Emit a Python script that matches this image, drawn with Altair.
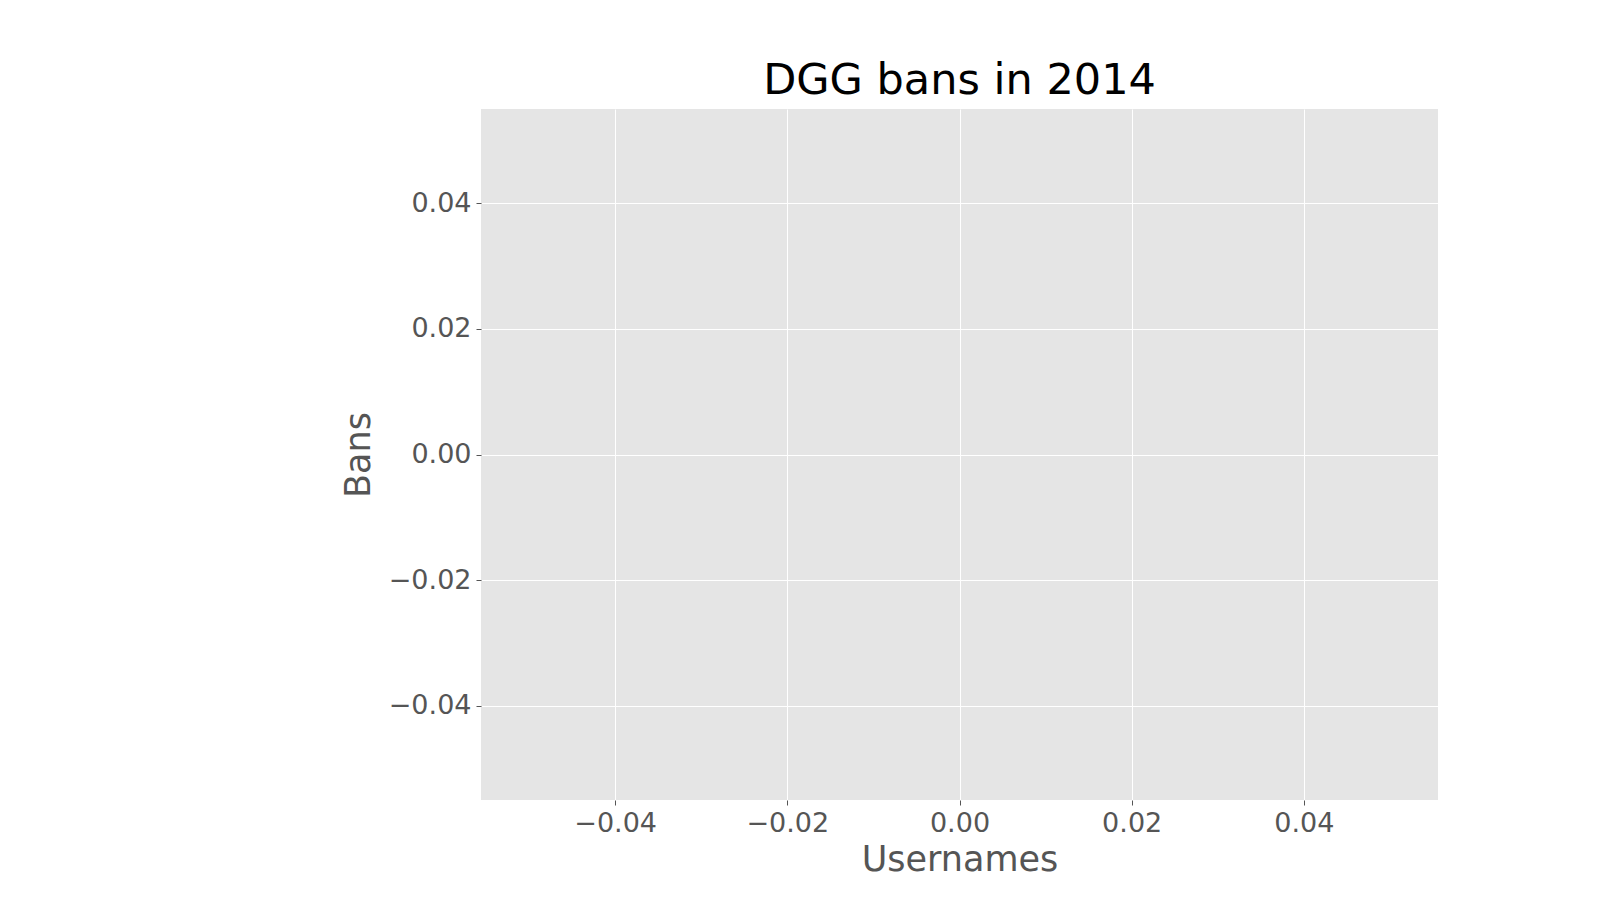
import altair as alt
import pandas as pd

usernames = []
bans = []
tick_values = [-0.04, -0.02, 0.0, 0.02, 0.04]

df = pd.DataFrame({"Usernames": pd.Series(usernames, dtype=float), "Bans": pd.Series(bans, dtype=float)})

axis_common = dict(values=tick_values, format=".2f", labelFontSize=27, labelColor="#555555",
                   labelFont="DejaVu Sans", titleFont="DejaVu Sans", titleFontSize=35,
                   titleColor="#555555", titleFontWeight="normal", gridColor="white",
                   gridWidth=1, domain=False, tickColor="#555555", tickSize=5, labelPadding=5)

chart = alt.Chart(df).mark_bar(color="#E24A33").encode(
    x=alt.X("Usernames:Q", scale=alt.Scale(domain=[-0.055, 0.055], nice=False, zero=False),
            axis=alt.Axis(title="Usernames", titlePadding=6, **axis_common)),
    y=alt.Y("Bans:Q", scale=alt.Scale(domain=[-0.055, 0.055], nice=False, zero=False),
            axis=alt.Axis(title="Bans", titlePadding=12, **axis_common)),
).properties(
    width=957, height=691,
    title=alt.TitleParams("DGG bans in 2014", fontSize=43, font="DejaVu Sans", color="black",
                          fontWeight="normal", offset=6),
    autosize=alt.AutoSizeParams(type="none"),
    padding={"left": 473, "top": 101, "right": 0, "bottom": 100},
).configure_view(fill="#E5E5E5", stroke=None)

chart.save("out.html", embed_options={"renderer": "svg", "actions": False})
